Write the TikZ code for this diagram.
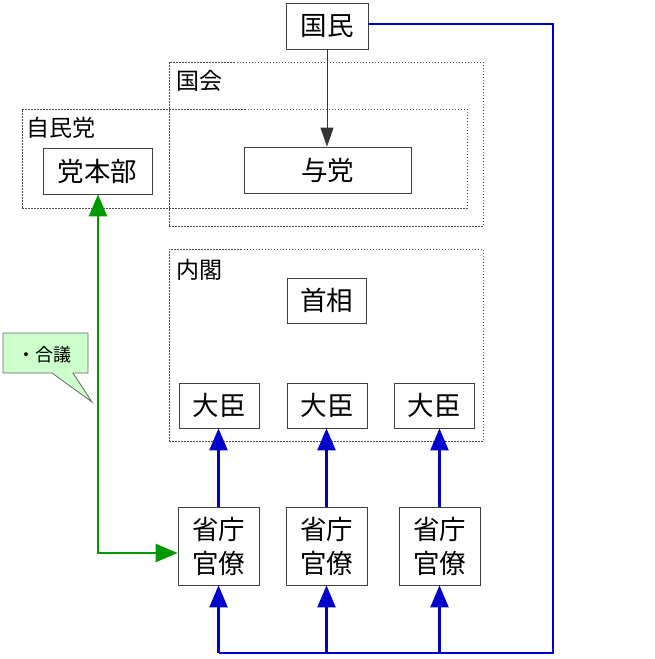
\documentclass[tikz,border=0pt]{standalone}
\usepackage{fontspec}
\setmainfont{Noto Sans CJK JP}
\usetikzlibrary{arrows.meta}
\definecolor{bl}{RGB}{0,0,204}
\definecolor{gr}{RGB}{0,153,0}
\definecolor{callfill}{RGB}{204,255,204}
\tikzset{
  box/.style={draw=black!75, line width=0.8pt, fill=white, inner sep=0pt, font=\fontsize{26.5}{34}\selectfont, align=center},
  frame/.style={draw=black!70, dash pattern=on 1.5pt off 1.5pt, line width=0.7pt, inner sep=0pt},
  flabel/.style={anchor=west, inner sep=0pt, font=\fontsize{23}{26}\selectfont},
  bluearr/.style={draw=bl, line width=2.4pt, -{Triangle[width=18pt,length=22pt]}},
  blueline/.style={draw=bl, line width=2.4pt},
  greenarr/.style={draw=gr, line width=2.4pt, {Triangle[width=18pt,length=22pt]}-{Triangle[width=18pt,length=22pt]}},
  blackarr/.style={draw=black!80, line width=0.8pt, -{Triangle[width=13pt,length=19pt]}}
}
\begin{document}
\begin{tikzpicture}[x=1pt,y=-1pt]
\useasboundingbox (0,0) rectangle (654,659);
% frames
\node[frame, minimum width=314pt, minimum height=164pt] (kokkai) at (326,144) {};
\node[frame, minimum width=445pt, minimum height=99pt] (jimin) at (244.5,158.5) {};
\node[frame, minimum width=314pt, minimum height=192pt] (naikaku) at (326,345) {};
\node[flabel] (lkokkai) at (176,81) {国会};
\node[flabel] (ljimin) at (26,128) {自民党};
\node[flabel] (lnaikaku) at (176,270) {内閣};
% boxes
\node[box, minimum width=82pt, minimum height=46pt] (kokumin) at (327,26) {国民};
\node[box, minimum width=109pt, minimum height=46pt] (honbu) at (97.5,171) {党本部};
\node[box, minimum width=167pt, minimum height=46pt] (yotou) at (327.5,170) {与党};
\node[box, minimum width=79pt, minimum height=45pt] (shushou) at (326.5,300.5) {首相};
\node[box, minimum width=80pt, minimum height=45pt] (d1) at (219,405.5) {大臣};
\node[box, minimum width=80pt, minimum height=45pt] (d2) at (327,405.5) {大臣};
\node[box, minimum width=80pt, minimum height=45pt] (d3) at (434,405.5) {大臣};
\node[box, minimum width=81pt, minimum height=78pt] (k1) at (218.5,546) {省庁\\官僚};
\node[box, minimum width=81pt, minimum height=78pt] (k2) at (326.5,546) {省庁\\官僚};
\node[box, minimum width=81pt, minimum height=78pt] (k3) at (439.5,546) {省庁\\官僚};
% black arrow
\draw[blackarr] (kokumin.south) -- (yotou.north -| kokumin.south);
% blue arrows up to daijin
\draw[bluearr] (k1.north) -- (k1.north |- d1.south);
\draw[bluearr] (k2.north) -- (k2.north |- d2.south);
\draw[bluearr] (k3.north) -- (k3.north |- d3.south);
% blue loop
\coordinate (b1) at (218.5,653);
\coordinate (b3) at (553,653);
\coordinate (t3) at (553,24);
\draw[blueline] (kokumin.east |- t3) -- (t3) -- (b3) -- (k1.south |- b3);
\draw[bluearr] (k1.south |- b3) -- (k1.south);
\draw[bluearr] (k2.south |- b3) -- (k2.south);
\draw[bluearr] (k3.south |- b3) -- (k3.south);
% green
\coordinate (gc) at (98,553);
\draw[greenarr] (honbu.south -| gc) -- (gc) -- (k1.west |- gc);
% callout
\draw[draw=black!60, fill=callfill, line width=0.8pt] (3,333) -- (88,333) -- (88,373) -- (73,373) -- (92,402) -- (52,373) -- (3,373) -- cycle;
\node[inner sep=0pt, font=\fontsize{18}{20}\selectfont] (gougi) at (44,355) {・合議};
\end{tikzpicture}
\end{document}
